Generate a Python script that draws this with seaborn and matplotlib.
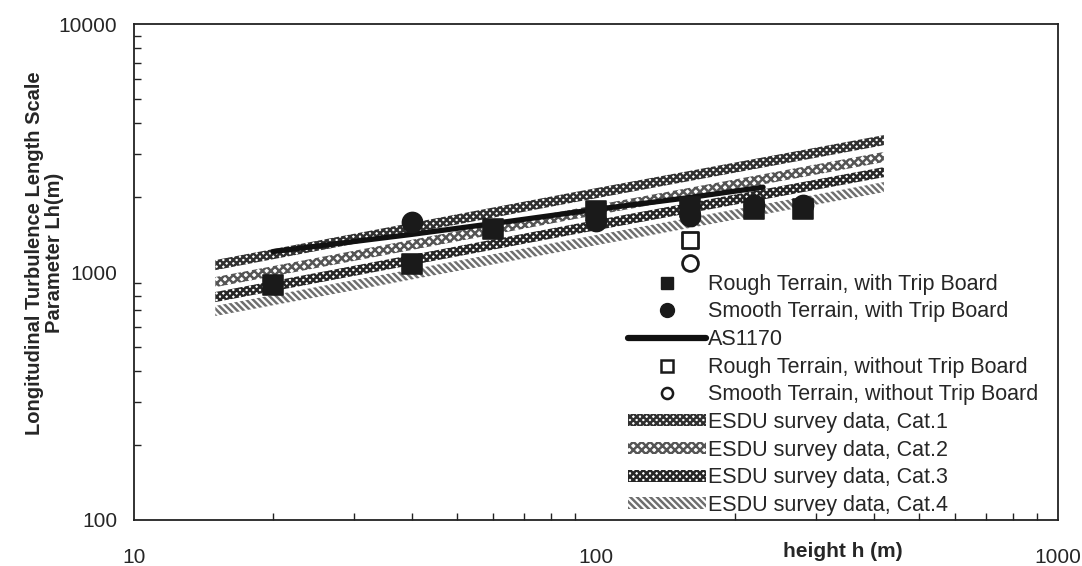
"""
Longitudinal turbulence length scale vs height - wind tunnel vs AS1170 / ESDU.
"""

import pandas as pd
import matplotlib
matplotlib.use("Agg")
import matplotlib.pyplot as plt
from matplotlib.lines import Line2D
from matplotlib.patches import Patch
import seaborn as sns

rough_h = [20, 40, 60, 100, 160, 220, 280]
rough_L = [890, 1077, 1490, 1760, 1830, 1800, 1800]

smooth_h = [40, 100, 160, 220, 280]
smooth_L = [1590, 1610, 1690, 1870, 1870]

rough_nt_h = [160]
rough_nt_L = [1346]
smooth_nt_h = [160]
smooth_nt_L = [1087]

# AS1170 code curve
as1170_h = [20, 40, 60, 100, 160, 230]
as1170_L = [1210, 1420, 1570, 1790, 2000, 2200]

# ESDU survey bands
esdu_h = [15, 90, 420]
esdu_cat1 = [1067, 2006, 3405]
esdu_cat2 = [911, 1715, 2912]
esdu_cat3 = [793, 1490, 2530]
esdu_cat4 = [697, 1297, 2202]

sns.set_style("ticks")
plt.rcParams['font.family'] = ['Liberation Sans', 'DejaVu Sans']
plt.rcParams['hatch.linewidth'] = 1.8

fig = plt.figure(figsize=(10.82, 5.66), dpi=100)
ax = fig.add_axes([0.1238, 0.0813, 0.854, 0.876])
ax.set_xscale('log')
ax.set_yscale('log')

# ESDU bands as hatched strips
band_styles = [
    ('ESDU survey data, Cat.1', esdu_cat1, 'xxxxx', '#303030'),
    ('ESDU survey data, Cat.2', esdu_cat2, 'xxxx', '#555555'),
    ('ESDU survey data, Cat.3', esdu_cat3, 'xxxxx', '#262626'),
    ('ESDU survey data, Cat.4', esdu_cat4, '\\\\\\\\\\', '#6e6e6e'),
]
band_handles = []
for label, vals, hatch, col in band_styles:
    lo = [v / 1.048 for v in vals]
    hi = [v * 1.048 for v in vals]
    ax.fill_between(esdu_h, lo, hi, facecolor='white', edgecolor=col,
                    hatch=hatch, linewidth=0, zorder=2)
    band_handles.append(Patch(facecolor='white', edgecolor=col, hatch=hatch,
                              linewidth=0, label=label))

# AS1170 line
df_as = pd.DataFrame({'h': as1170_h, 'L': as1170_L})
sns.lineplot(data=df_as, x='h', y='L', ax=ax, color='#111111', linewidth=3.8,
             zorder=3, legend=False)

# measured points
df_rough = pd.DataFrame({'h': rough_h, 'L': rough_L})
df_smooth = pd.DataFrame({'h': smooth_h, 'L': smooth_L})
sns.scatterplot(data=df_smooth, x='h', y='L', ax=ax, marker='o', s=210,
                color='#1a1a1a', edgecolor='#1a1a1a', zorder=4, legend=False)
sns.scatterplot(data=df_rough, x='h', y='L', ax=ax, marker='s', s=210,
                color='#1a1a1a', edgecolor='#1a1a1a', zorder=4, legend=False)
sns.scatterplot(x=rough_nt_h, y=rough_nt_L, ax=ax, marker='s', s=120,
                facecolor='white', edgecolor='#1a1a1a', linewidth=2, zorder=4)
ax.scatter(smooth_nt_h, smooth_nt_L, marker='o', s=130, facecolor='white',
           edgecolor='#1a1a1a', linewidth=2, zorder=4)

ax.set_xlim(10, 1000)
ax.set_ylim(100, 10000)
ax.set_xticks([10, 100, 1000])
ax.set_xticklabels(['10', '100', '1000'])
ax.set_yticks([100, 1000, 10000])
ax.set_yticklabels(['100', '1000', '10000'])
ax.tick_params(axis='both', which='major', length=0, labelsize=15)
ax.tick_params(axis='x', which='major', pad=20)
ax.tick_params(axis='y', which='major', pad=12)
ax.tick_params(axis='both', which='minor', direction='in', length=5,
               width=1, color='#222222')
for s in ax.spines.values():
    s.set_visible(True)
    s.set_color('#222222')
    s.set_linewidth(1.3)

ax.set_xlabel('height h (m)', fontsize=15, fontweight='bold')
ax.xaxis.set_label_coords(0.767, -0.045, transform=ax.transAxes)
ax.xaxis.label.set_va('top')
ax.set_ylabel('Longitudinal Turbulence Length Scale\nParameter Lh(m)',
              fontsize=14.5, fontweight='bold', linespacing=1.05)
ax.yaxis.set_label_coords(-0.076, 0.538)

handles = [
    Line2D([], [], marker='s', linestyle='none', color='#1a1a1a', markersize=9,
           label='Rough Terrain, with Trip Board'),
    Line2D([], [], marker='o', linestyle='none', color='#1a1a1a', markersize=10,
           label='Smooth Terrain, with Trip Board'),
    Line2D([], [], color='#111111', linewidth=4.5, label='AS1170'),
    Line2D([], [], marker='s', linestyle='none', markerfacecolor='white',
           markeredgecolor='#1a1a1a', markeredgewidth=1.8, markersize=9,
           label='Rough Terrain, without Trip Board'),
    Line2D([], [], marker='o', linestyle='none', markerfacecolor='white',
           markeredgecolor='#1a1a1a', markeredgewidth=1.8, markersize=8,
           label='Smooth Terrain, without Trip Board'),
] + band_handles

leg = ax.legend(handles=handles, loc='upper left', bbox_to_anchor=(0.535, 0.497),
                frameon=False, fontsize=15.5, handlelength=3.6, handleheight=0.5,
                handletextpad=0.1, labelspacing=0.31, borderpad=0,
                borderaxespad=0)

plt.savefig('out.png', dpi=100)
